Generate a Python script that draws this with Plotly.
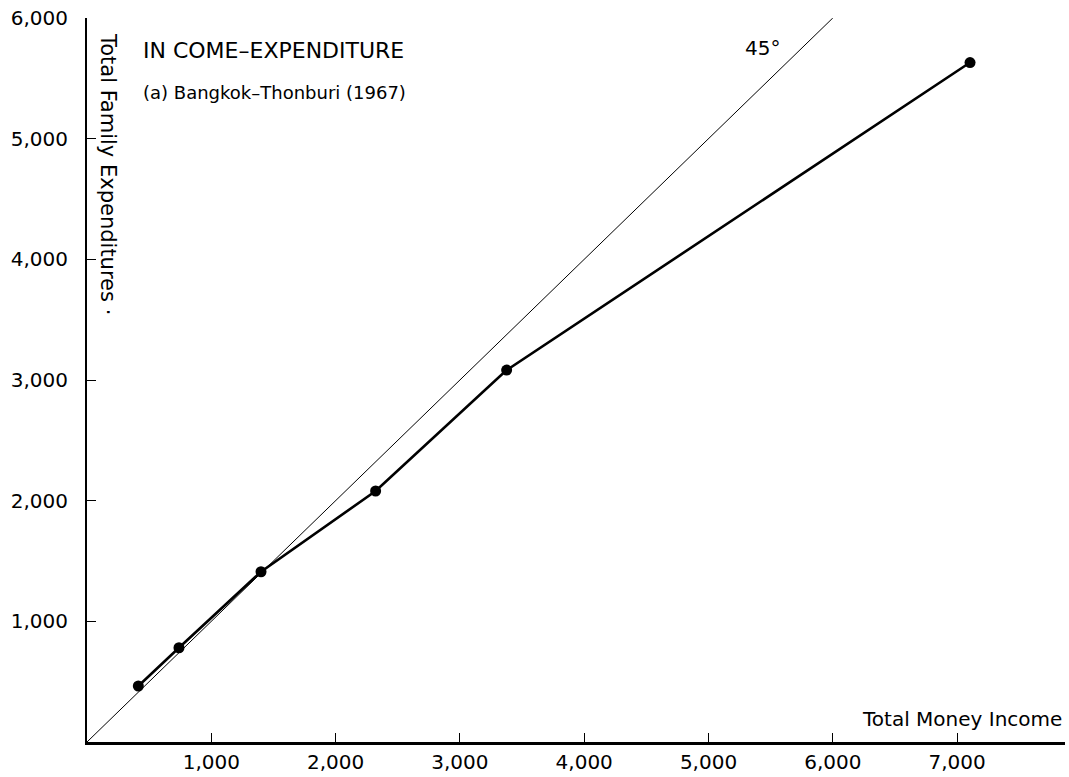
import plotly.graph_objects as go

# Data (Bangkok-Thonburi 1967)
income = [413, 740, 1400, 2322, 3376, 7104]
expenditure = [464, 781, 1411, 2080, 3082, 5631]

# 45-degree reference line
ref_x = [0, 6000]
ref_y = [0, 6000]

x_ticks = [1000, 2000, 3000, 4000, 5000, 6000, 7000]
x_tick_labels = ["1,000", "2,000", "3,000", "4,000", "5,000", "6,000", "7,000"]
y_ticks = [1000, 2000, 3000, 4000, 5000, 6000]
y_tick_labels = ["1,000", "2,000", "3,000", "4,000", "5,000", "6,000"]

FONT = "DejaVu Sans"

W, H = 1069, 777
ML, MR, MT, MB = 87, 4, 18, 35

fig = go.Figure()
fig.add_trace(go.Scatter(x=ref_x, y=ref_y, mode="lines",
                         line=dict(color="black", width=1), hoverinfo="skip"))
fig.add_trace(go.Scatter(x=income, y=expenditure, mode="lines+markers",
                         line=dict(color="black", width=2.6),
                         marker=dict(color="black", size=11)))

fig.update_layout(
    width=W, height=H,
    margin=dict(l=ML, r=MR, t=MT, b=MB, autoexpand=False),
    plot_bgcolor="white", paper_bgcolor="white",
    showlegend=False,
    font=dict(family=FONT, color="black", size=20),
    xaxis=dict(range=[0, 7868], showgrid=False, zeroline=False, automargin=False,
               showline=True, linecolor="black", linewidth=2.5,
               ticks="inside", ticklen=9, tickwidth=1, tickcolor="black",
               tickvals=x_ticks, ticktext=x_tick_labels,
               ticklabeloverflow="allow",
               tickfont=dict(family=FONT, size=20, color="black")),
    yaxis=dict(range=[0, 6000], showgrid=False, zeroline=False, automargin=False,
               showline=True, linecolor="black", linewidth=2,
               ticks="inside", ticklen=9, tickwidth=1, tickcolor="black",
               tickvals=y_ticks, ticktext=y_tick_labels,
               ticklabelstandoff=13, ticklabeloverflow="allow",
               tickfont=dict(family=FONT, size=20, color="black")),
)

# annotation positions given in page pixels
annotations = [
    dict(text="IN COME\u2013EXPENDITURE", x=141, y=51, xanchor="left", yanchor="middle",
         font=dict(size=22)),
    dict(text="(a) Bangkok\u2013Thonburi (1967)", x=141, y=93, xanchor="left", yanchor="middle",
         font=dict(size=18)),
    dict(text="45°", x=762, y=48, xanchor="center", yanchor="middle",
         font=dict(size=20)),
    dict(text="Total Money Income", x=1064, y=719, xanchor="right", yanchor="middle",
         font=dict(size=20)),
    dict(text="Total Family Expenditures \u00b7", x=108, y=31, xanchor="center", yanchor="top",
         textangle=90, font=dict(size=21)),
]
PW = W - ML - MR
PH = H - MT - MB
for a in annotations:
    a.update(xref="paper", yref="paper", showarrow=False)
    a["x"] = (a["x"] - ML) / PW
    a["y"] = 1 - (a["y"] - MT) / PH
    fig.add_annotation(**a)

fig.write_html("out.html", config={"displayModeBar": False, "staticPlot": True})

# remove the default 8px page margin so the figure fills the window exactly
with open("out.html", "r", encoding="utf-8") as f:
    html = f.read()
html = html.replace("<body>", '<body style="margin:0;overflow:hidden">', 1)
with open("out.html", "w", encoding="utf-8") as f:
    f.write(html)
